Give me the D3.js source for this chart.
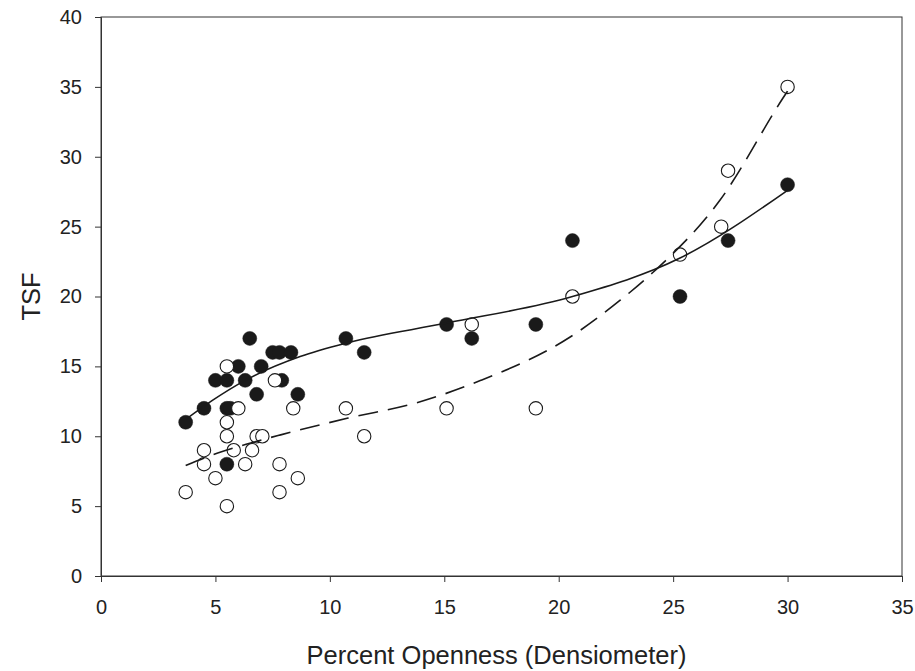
<!DOCTYPE html>
<html>
<head>
<meta charset="utf-8">
<script src="https://cdn.jsdelivr.net/npm/d3@7.9.0/dist/d3.min.js"></script>
<style>
  body { margin: 0; background: #fff; }
  text { font-family: "Liberation Sans", Arial, sans-serif; fill: #222; }
</style>
</head>
<body>
<div id="chart"></div>
<script>
// filled circles: [openness, TSF]
const filledPts = [
  [3.7, 11], [4.5, 12], [5.0, 14], [5.5, 14], [5.5, 12], [5.65, 12], [5.5, 8],
  [6.0, 15], [6.3, 14], [6.5, 17], [6.8, 13], [7.0, 15], [7.5, 16], [7.8, 16],
  [8.3, 16], [7.9, 14], [8.6, 13], [10.7, 17], [11.5, 16], [15.1, 18], [16.2, 17],
  [19.0, 18], [20.6, 24], [25.3, 20], [27.4, 24], [30.0, 28]
];

// open circles
const openPts = [
  [3.7, 6], [4.5, 9], [4.5, 8], [5.0, 7], [5.5, 15], [5.5, 11], [5.5, 10], [5.5, 5],
  [5.8, 9], [6.0, 12], [6.3, 8], [6.6, 9], [6.8, 10], [7.05, 10], [7.6, 14], [7.8, 8],
  [7.8, 6], [8.4, 12], [8.6, 7], [10.7, 12], [11.5, 10], [15.1, 12], [16.2, 18],
  [19.0, 12], [20.6, 20], [25.3, 23], [27.1, 25], [27.4, 29], [30.0, 35]
];

// fitted curves
const solidFit = [
  [3.7, 11.2], [4.9, 12.6], [6.3, 14.0], [8.7, 15.7], [10.8, 16.7], [15.1, 18.1],
  [20.6, 20.0], [25.3, 22.75], [30.0, 27.6]
];
const dashedFit = [
  [3.7, 7.9], [5.1, 8.8], [6.5, 9.5], [7.85, 10.1], [10.8, 11.3], [13.8, 12.4],
  [16.6, 14.0], [20.5, 17.1], [22.7, 19.75], [24.1, 21.7], [27.05, 26.9],
  [29.8, 34.2], [30.0, 34.7]
];

const xTicks = [0, 5, 10, 15, 20, 25, 30, 35];
const yTicks = [0, 5, 10, 15, 20, 25, 30, 35, 40];

const width = 915, height = 671;
const margin = { top: 17, right: 13, bottom: 95, left: 101 };

const svg = d3.select("#chart").append("svg")
  .attr("width", width)
  .attr("height", height);

const x = d3.scaleLinear().domain([0, 35]).range([margin.left, width - margin.right]);
const y = d3.scaleLinear().domain([0, 40]).range([height - margin.bottom, margin.top]);

// frame
svg.append("rect")
  .attr("x", x(0)).attr("y", y(40))
  .attr("width", x(35) - x(0)).attr("height", y(0) - y(40))
  .attr("fill", "none").attr("stroke", "#333").attr("stroke-width", 1);

const xAxis = svg.append("g")
  .attr("transform", `translate(0, ${y(0)})`)
  .call(d3.axisBottom(x).tickValues(xTicks).tickSize(6).tickPadding(18));
const yAxis = svg.append("g")
  .attr("transform", `translate(${x(0)}, 0)`)
  .call(d3.axisLeft(y).tickValues(yTicks).tickSize(6).tickPadding(13));

[xAxis, yAxis].forEach(g => {
  g.select(".domain").attr("stroke", "#333");
  g.selectAll(".tick line").attr("stroke", "#333");
  g.selectAll(".tick text")
    .style("font-family", "'Liberation Sans', Arial, sans-serif")
    .style("font-size", "20px").attr("fill", "#222");
});

// axis titles
svg.append("text")
  .attr("x", (x(0) + x(35)) / 2 - 5).attr("y", 664)
  .attr("text-anchor", "middle").style("font-size", "25.5px")
  .text("Percent Openness (Densiometer)");
svg.append("text")
  .attr("transform", `translate(40, ${(y(0) + y(40)) / 2}) rotate(-90)`)
  .attr("text-anchor", "middle").style("font-size", "25.5px")
  .text("TSF");

// points
svg.append("g").selectAll("circle")
  .data(filledPts).join("circle")
  .attr("cx", d => x(d[0])).attr("cy", d => y(d[1])).attr("r", 7)
  .attr("fill", "#1a1a1a").attr("stroke", "#1a1a1a").attr("stroke-width", 0.5);

svg.append("g").selectAll("circle")
  .data(openPts).join("circle")
  .attr("cx", d => x(d[0])).attr("cy", d => y(d[1])).attr("r", 6.7)
  .attr("fill", "#fff").attr("stroke", "#1a1a1a").attr("stroke-width", 1.1);

// curves
const line = d3.line()
  .x(d => x(d[0])).y(d => y(d[1]))
  .curve(d3.curveMonotoneX);

svg.append("path").datum(solidFit)
  .attr("d", line).attr("fill", "none")
  .attr("stroke", "#1a1a1a").attr("stroke-width", 1.6);

svg.append("path").datum(dashedFit)
  .attr("d", line).attr("fill", "none")
  .attr("stroke", "#1a1a1a").attr("stroke-width", 1.6)
  .attr("stroke-dasharray", "20,10");
</script>
</body>
</html>
